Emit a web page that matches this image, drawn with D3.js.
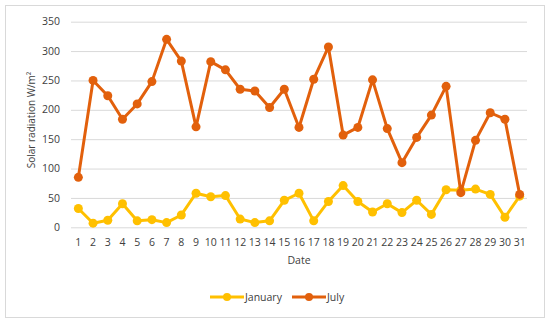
<!DOCTYPE html>
<meta charset='utf-8'>
<style>
body { margin: 0; background: #fff; }
svg text { font-family: 'Open Sans', 'Noto Sans', sans-serif; fill: #404040; }
.grid line { stroke: #d9d9d9; }
.grid .domain { stroke: none; }
.line { fill: none; stroke-width: 3px; stroke-linejoin: round; }
</style>
<body>
<script src='https://d3js.org/d3.v7.min.js'></script>
<script>
'use strict'

// Data
let days = d3.range(1, 32).map(String)
let january = [32, 7, 12, 40, 11, 13, 8, 21, 58, 52, 54, 14, 8, 11, 46, 58, 11, 44, 71, 44,
	26, 40, 25, 46, 22, 64, 63, 65, 56, 17, 53]
let july = [85, 250, 224, 184, 210, 248, 320, 283, 171, 282, 268, 235, 232, 204, 235, 170,
	252, 307, 157, 170, 251, 168, 110, 153, 191, 240, 59, 148, 195, 184, 56]
let yTicks = [0, 50, 100, 150, 200, 250, 300, 350]
let series = [
	{name: 'January', values: january, color: '#ffc000'},
	{name: 'July', values: july, color: '#e2600c'} ]

let W = 550, H = 323,
	plot = {left: 71, right: 527, top: 21.7, bottom: 227.3},
	x = d3.scaleBand().domain(days).range([plot.left, plot.right]),
	y = d3.scaleLinear().domain([0, 350]).range([plot.bottom, plot.top])

let svg = d3.select('body').append('svg').attr('width', W).attr('height', H)

svg.append('rect')
	.attr('x', 5.5).attr('y', 5.5).attr('width', 539).attr('height', 312)
	.attr('fill', '#fff').attr('stroke', '#d9d9d9')

// grid + y axis labels
svg.append('g').attr('class', 'grid')
	.attr('transform', `translate(${plot.left},0)`)
	.call(d3.axisLeft(y).tickValues(yTicks).tickSize(-(plot.right - plot.left)).tickFormat(''))

svg.append('g').selectAll('text').data(yTicks).join('text')
	.attr('x', 60).attr('y', d => y(d)).attr('dy', '0.35em')
	.attr('text-anchor', 'end').attr('font-size', 10.5).text(d => d)

svg.append('g').selectAll('text').data(days).join('text')
	.attr('x', d => x(d) + x.bandwidth() / 2).attr('y', 242).attr('dy', '0.35em')
	.attr('text-anchor', 'middle').attr('font-size', 10.5).text(d => d)

// axis titles
svg.append('text')
	.attr('transform', 'translate(35,120) rotate(-90)')
	.attr('text-anchor', 'middle').attr('font-size', 10)
	.text('Solar radiation W/m²')
svg.append('text')
	.attr('x', (plot.left + plot.right) / 2).attr('y', 260).attr('dy', '0.35em')
	.attr('text-anchor', 'middle').attr('font-size', 10.5).text('Date')

// lines
let line = d3.line().x((d, i) => x(days[i]) + x.bandwidth() / 2).y(d => y(d))

series.forEach(s => {
	let g = svg.append('g')
	g.append('path').datum(s.values).attr('class', 'line')
		.attr('stroke', s.color).attr('d', line)
	g.selectAll('circle').data(s.values).join('circle')
		.attr('cx', (d, i) => x(days[i]) + x.bandwidth() / 2).attr('cy', d => y(d))
		.attr('r', 4.5).attr('fill', s.color)
})

// legend
let legendX = [210, 292]
series.forEach((s, i) => {
	let g = svg.append('g').attr('transform', `translate(${legendX[i]},297)`)
	g.append('line').attr('x1', 0).attr('x2', 34)
		.attr('stroke', s.color).attr('stroke-width', 3)
	g.append('circle').attr('cx', 17).attr('r', 4).attr('fill', s.color)
	g.append('text').attr('x', 35).attr('dy', '0.35em')
		.attr('font-size', 10.5).text(s.name)
})
</script>
</body>
